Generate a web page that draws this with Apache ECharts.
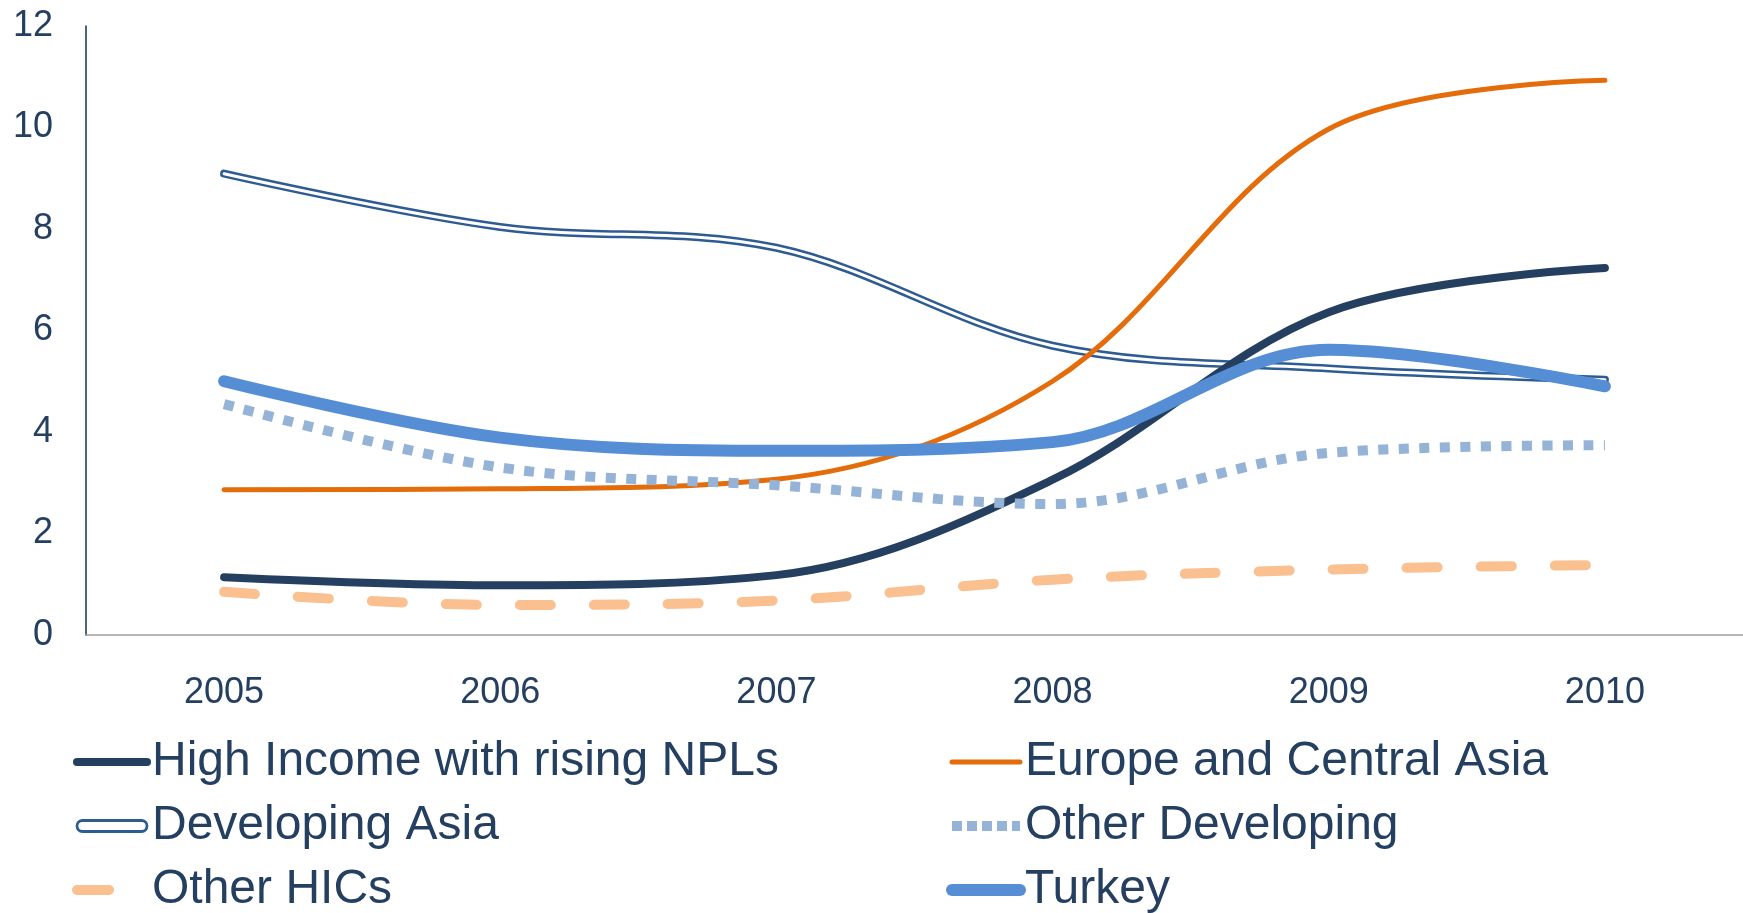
<!DOCTYPE html>
<html>
<head>
<meta charset="utf-8">
<script src="https://cdn.jsdelivr.net/npm/echarts@6/dist/echarts.min.js"></script>
<style>
  html, body { margin: 0; padding: 0; background: #ffffff; }
  #chart { width: 1743px; height: 913px; }
</style>
</head>
<body>
<div id="chart"></div>
<script>
// Years on the category axis
const years = ['2005', '2006', '2007', '2008', '2009', '2010'];

// NPL ratios by group (%)
const highIncomeRisingNPLs = [1.14, 0.98, 1.18, 3.06, 6.36, 7.23];
const europeCentralAsia    = [2.86, 2.88, 3.07, 5.00, 9.97, 10.93];
const developingAsia       = [9.09, 8.04, 7.63, 5.70, 5.25, 5.03];
const otherDeveloping      = [4.55, 3.30, 2.95, 2.58, 3.59, 3.74];
const otherHICs            = [0.85, 0.59, 0.68, 1.09, 1.29, 1.38];
const turkey               = [5.00, 3.89, 3.63, 3.80, 5.62, 4.90];

// Value axis ticks
const yMin = 0, yMax = 12, yStep = 2;

const NAVY = '#243F60';
const ORANGE = '#E46C0A';
const STEEL = '#2E5C92';
const PALE_BLUE = '#95B3D7';
const PEACH = '#FAC090';
const TURKEY_BLUE = '#558ED5';
const TEXT = '#243F60';
const FONT = '"Liberation Sans", Arial, sans-serif';
const SMOOTH = 0.35;

function lineSeries(name, data, color, width, extra) {
  return Object.assign({
    name: name,
    type: 'line',
    data: data,
    smooth: SMOOTH,
    symbol: 'none',
    color: color,
    lineStyle: { color: color, width: width, cap: 'round', join: 'round' },
    emphasis: { disabled: true },
    silent: true
  }, extra || {});
}

const chart = echarts.init(document.getElementById('chart'), null, { renderer: 'canvas' });

const legendBase = {
  orient: 'vertical',
  top: 738,
  height: 230,
  padding: 0,
  itemHeight: 12,
  itemGap: 16,
  selectedMode: false,
  itemStyle: { opacity: 0 },
  textStyle: { fontSize: 48, color: TEXT, fontFamily: FONT }
};

chart.setOption({
  animation: false,
  backgroundColor: '#ffffff',
  grid: { left: 86, top: 26, width: 1665, height: 609, containLabel: false },
  xAxis: {
    type: 'category',
    data: years,
    boundaryGap: true,
    axisLine: { show: true, lineStyle: { color: '#A0A0A0', width: 1.6 } },
    axisTick: { show: false },
    axisLabel: { color: TEXT, fontSize: 36, fontFamily: FONT, margin: 40 },
    splitLine: { show: false }
  },
  yAxis: {
    type: 'value',
    min: yMin,
    max: yMax,
    interval: yStep,
    axisLine: { show: true, lineStyle: { color: NAVY, width: 1.6 } },
    axisTick: { show: false },
    axisLabel: { color: TEXT, fontSize: 36, fontFamily: FONT, margin: 33, padding: [7, 0, 0, 0] },
    splitLine: { show: false }
  },
  legend: [
    Object.assign({}, legendBase, {
      left: 72,
      width: 800,
      itemWidth: 70,
      data: [
        { name: 'High Income with rising NPLs', lineStyle: { width: 8, cap: 'round', type: 'solid', color: NAVY } },
        {
          name: 'Developing Asia',
          icon: 'path://M5.5,0 L64.5,0 A5.5,5.5 0 0 1 64.5,11 L5.5,11 A5.5,5.5 0 0 1 5.5,0 Z',
          itemStyle: { color: '#ffffff', borderColor: STEEL, borderWidth: 2.8, opacity: 1 }
        },
        { name: 'Other HICs', lineStyle: { width: 10, cap: 'round', type: [32, 100], color: PEACH } }
      ]
    }),
    Object.assign({}, legendBase, {
      left: 946,
      width: 790,
      itemWidth: 68,
      data: [
        { name: 'Europe and Central Asia', lineStyle: { width: 5, cap: 'round', type: 'solid', color: ORANGE } },
        { name: 'Other Developing', lineStyle: { width: 10, cap: 'butt', type: [10, 5], color: PALE_BLUE } },
        { name: 'Turkey', lineStyle: { width: 12, cap: 'round', type: 'solid', color: TURKEY_BLUE } }
      ]
    })
  ],
  series: [
    // double-stroke line: a steel-blue band with a white core on top
    lineSeries('Developing Asia', developingAsia, STEEL, 8, { z: 2 }),
    lineSeries('Developing Asia', developingAsia, '#ffffff', 3, { id: 'developingAsiaCore', z: 3 }),
    lineSeries('High Income with rising NPLs', highIncomeRisingNPLs, NAVY, 8, { z: 4 }),
    lineSeries('Europe and Central Asia', europeCentralAsia, ORANGE, 5, { z: 4 }),
    lineSeries('Other Developing', otherDeveloping, PALE_BLUE, 10, {
      z: 5,
      lineStyle: { color: PALE_BLUE, width: 10, cap: 'butt', join: 'round', type: [10, 10.5] }
    }),
    lineSeries('Other HICs', otherHICs, PEACH, 10, {
      z: 5,
      lineStyle: { color: PEACH, width: 10, cap: 'round', join: 'round', type: [31, 43] }
    }),
    lineSeries('Turkey', turkey, TURKEY_BLUE, 12, { z: 6 })
  ]
});
</script>
</body>
</html>
